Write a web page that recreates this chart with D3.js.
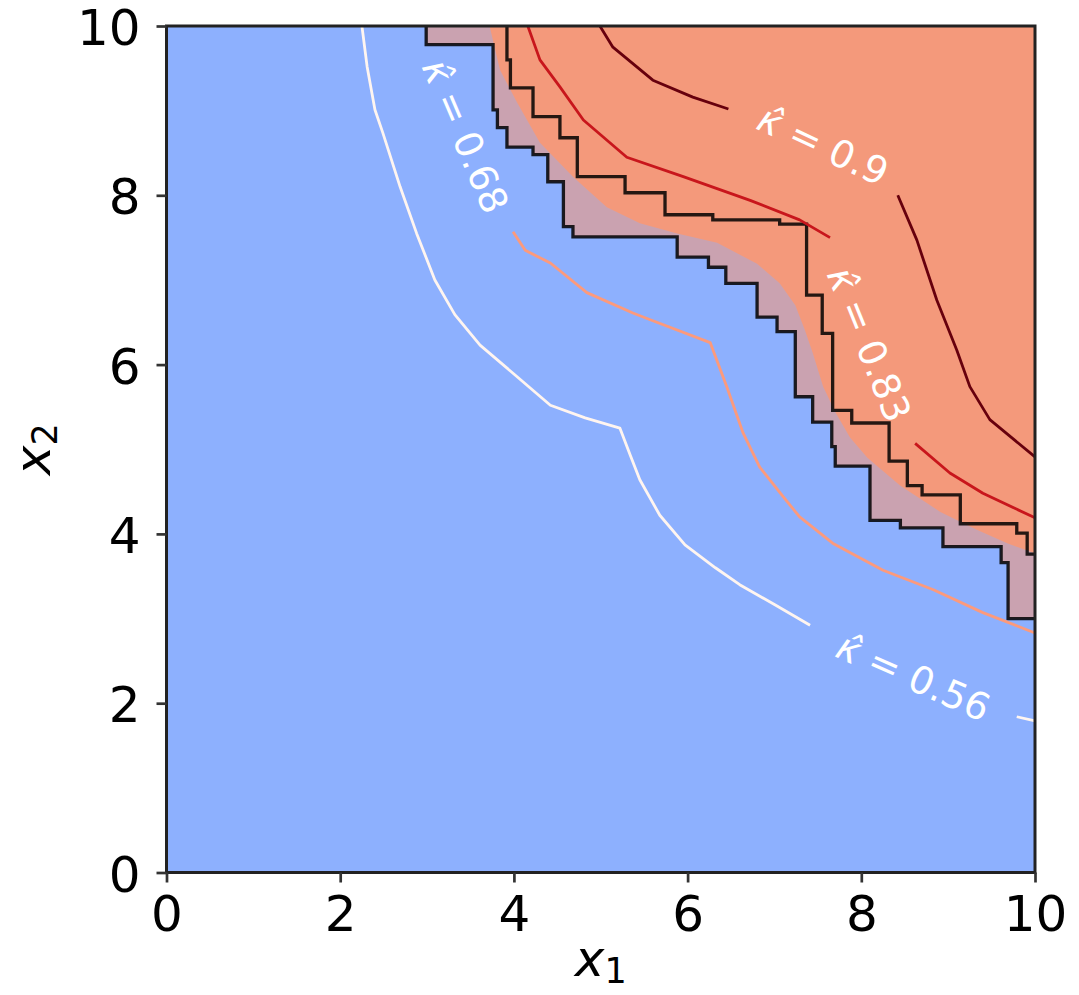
<!DOCTYPE html>
<html>
<head>
<meta charset="utf-8">
<script src="https://cdn.jsdelivr.net/npm/d3@7"></script>
<style>
  body { margin: 0; background: #fff; }
  text { font-family: "DejaVu Sans", sans-serif; }
</style>
</head>
<body>
<div id="chart"></div>
<script>
// ticks
var xTicks = [0, 2, 4, 6, 8, 10];
var yTicks = [0, 2, 4, 6, 8, 10];

// boundary of the orange (upper right) region
var boundary = [[3.72,10],[3.84,9.48],[4.04,9.09],[4.30,8.62],[4.68,8.22],[5.07,7.86],[5.45,7.67],
  [5.88,7.55],[6.34,7.44],[6.80,7.19],[7.06,6.96],[7.24,6.70],[7.35,6.41],[7.44,6.14],[7.56,5.74],
  [7.70,5.44],[7.87,5.14],[8.07,4.90],[8.45,4.57],[8.91,4.26],[9.33,4.05],[9.68,3.89],[10,3.77]];

// staircases: x breakpoints and y levels
var outerX = [2.99, 3.76, 3.81, 3.92, 4.22, 4.39, 4.57, 4.68, 5.88, 6.24, 6.44, 6.80, 7.03, 7.24,
  7.44, 7.66, 7.70, 8.10, 8.45, 8.94, 9.61, 9.69, 10];
var outerY = [9.78, 9.01, 8.80, 8.57, 8.48, 8.16, 7.63, 7.51, 7.27, 7.15, 6.96, 6.56, 6.39, 5.62,
  5.32, 5.03, 4.80, 4.16, 4.07, 3.85, 3.66, 3.00];
var innerX = [3.92, 3.96, 4.22, 4.53, 4.73, 5.28, 5.74, 6.29, 7.06, 7.37, 7.55, 7.67, 7.89, 8.32,
  8.53, 8.70, 9.14, 9.79, 9.91, 10];
var innerY = [9.60, 9.27, 8.93, 8.68, 8.22, 8.03, 7.77, 7.71, 7.66, 6.82, 6.37, 5.46, 5.31, 4.86,
  4.57, 4.46, 4.12, 4.01, 3.76];

// contour lines (pieces broken where the labels sit)
var k056 = [[[2.25,10],[2.31,9.52],[2.40,9.01],[2.49,8.74],[2.69,8.10],[2.88,7.55],[3.09,7.00],
  [3.32,6.59],[3.61,6.23],[4.01,5.88],[4.42,5.52],[4.82,5.37],[5.22,5.25],[5.34,4.93],[5.45,4.64],
  [5.68,4.22],[5.97,3.87],[6.32,3.60],[6.60,3.40],[7.01,3.16],[7.41,2.92]],
  [[9.79,1.84],[10,1.79]]];
var k068 = [[[3.99,7.57],[4.13,7.35],[4.42,7.20],[4.84,6.85],[5.37,6.61],[5.57,6.53],[6.26,6.26],
  [6.45,5.74],[6.64,5.19],[6.83,4.79],[7.10,4.44],[7.29,4.20],[7.67,3.89],[8.25,3.57],[8.83,3.34],
  [9.40,3.07],[10,2.83]]];
var k083 = [[[4.16,10],[4.30,9.60],[4.53,9.28],[4.80,8.89],[5.30,8.45],[5.95,8.22],[6.72,7.94],
  [7.29,7.71],[7.64,7.50]],
  [[8.62,5.07],[9.02,4.72],[9.40,4.48],[10,4.19]]];
var k090 = [[[4.99,10],[5.14,9.75],[5.60,9.36],[6.06,9.16],[6.47,9.02]],
  [[8.42,8.00],[8.64,7.47],[8.87,6.76],[9.10,6.17],[9.25,5.74],[9.48,5.35],[10,4.91]]];

var levels = ["0.56", "0.68", "0.83", "0.9"];
var levelLines = [k056, k068, k083, k090];
var levelColors = ["#fff5f0", "#fc9a7c", "#c8161c", "#67000d"];

// label anchor points (data units) and rotation
var labelPos = [[8.60, 2.31], [3.44, 8.70], [8.09, 6.24], [7.56, 8.59]];
var labelAngle = [24, 67, 68, 25];

var svgWidth = 1079;
var svgHeight = 995;

var svg = d3.select("#chart")
  .append("svg")
  .attr("width", svgWidth)
  .attr("height", svgHeight);

var xScale = d3.scaleLinear().domain([0, 10]).range([166.5, 1035]);
var yScale = d3.scaleLinear().domain([0, 10]).range([872.5, 26]);

// background (low class)
svg.append("rect")
  .attr("x", xScale(0))
  .attr("y", yScale(10))
  .attr("width", xScale(10) - xScale(0))
  .attr("height", yScale(0) - yScale(10))
  .attr("fill", "#8db0fe");

// high class region
var orangePts = boundary.concat([[10, 10]]);
svg.append("path")
  .attr("d", d3.line().x(d => xScale(d[0])).y(d => yScale(d[1])).curve(d3.curveLinearClosed)(orangePts))
  .attr("fill", "#f49a7b");

// staircase points for stepBefore
function stairs(xs, ys) {
  var pts = [[xs[0], 10]];
  for (var i = 0; i < ys.length; i++) {
    pts.push([xs[i + 1], ys[i]]);
  }
  return pts;
}

var stepLine = d3.line()
  .x(d => xScale(d[0]))
  .y(d => yScale(d[1]))
  .curve(d3.curveStepBefore);

var outerPts = stairs(outerX, outerY);
var innerPts = stairs(innerX, innerY);

// band above the outer staircase, semi transparent
svg.append("path")
  .attr("d", stepLine(outerPts) + "L" + xScale(10) + "," + yScale(10) + "Z")
  .attr("fill", "#f49a7b")
  .attr("opacity", 0.6);

[outerPts, innerPts].forEach(function(pts) {
  svg.append("path")
    .attr("d", stepLine(pts))
    .attr("fill", "none")
    .attr("stroke", "#000")
    .attr("stroke-opacity", 0.85)
    .attr("stroke-width", 3.3);
});

// contour lines
var contourLine = d3.line()
  .x(d => xScale(d[0]))
  .y(d => yScale(d[1]));

levelLines.forEach(function(pieces, i) {
  pieces.forEach(function(p) {
    svg.append("path")
      .attr("d", contourLine(p))
      .attr("fill", "none")
      .attr("stroke", levelColors[i])
      .attr("stroke-width", 2.8)
      .attr("stroke-linejoin", "round");
  });
});

// contour labels
levels.forEach(function(lv, i) {
  var t = svg.append("text")
    .attr("transform", `translate(${xScale(labelPos[i][0])},${yScale(labelPos[i][1])}) rotate(${labelAngle[i]})`)
    .attr("text-anchor", "middle")
    .attr("dy", "0.35em")
    .attr("fill", "#fff")
    .attr("font-size", "38px");
  t.append("tspan").attr("font-style", "italic").text("\u03ba\u0302");
  t.append("tspan").text(" = " + lv);
});

// frame
svg.append("rect")
  .attr("x", xScale(0))
  .attr("y", yScale(10))
  .attr("width", xScale(10) - xScale(0))
  .attr("height", yScale(0) - yScale(10))
  .attr("fill", "none")
  .attr("stroke", "#222")
  .attr("stroke-width", 3);

// axes
var xAxis = svg.append("g")
  .attr("transform", `translate(0,${yScale(0)})`)
  .call(d3.axisBottom(xScale).tickValues(xTicks).tickFormat(d3.format("d")).tickSize(10).tickPadding(13));
var yAxis = svg.append("g")
  .attr("transform", `translate(${xScale(0)},0)`)
  .call(d3.axisLeft(yScale).tickValues(yTicks).tickFormat(d3.format("d")).tickSize(10).tickPadding(16));

[xAxis, yAxis].forEach(function(a) {
  a.select(".domain").remove();
  a.selectAll("line").attr("stroke", "#333").attr("stroke-width", 2.7);
  a.selectAll("text")
    .attr("font-family", "DejaVu Sans")
    .attr("font-size", "50px")
    .attr("fill", "#000");
});
yAxis.selectAll("text").attr("dy", "0.37em");

// axis labels
var xl = svg.append("text")
  .attr("x", (xScale(0) + xScale(10)) / 2)
  .attr("y", 976)
  .attr("text-anchor", "middle")
  .attr("font-size", "50px");
xl.append("tspan").attr("font-style", "italic").text("x");
xl.append("tspan").attr("font-size", "35px").attr("dy", "7").text("1");

var yl = svg.append("text")
  .attr("transform", `translate(50,${(yScale(0) + yScale(10)) / 2}) rotate(-90)`)
  .attr("text-anchor", "middle")
  .attr("font-size", "50px");
yl.append("tspan").attr("font-style", "italic").text("x");
yl.append("tspan").attr("font-size", "35px").attr("dy", "7").text("2");
</script>
</body>
</html>
